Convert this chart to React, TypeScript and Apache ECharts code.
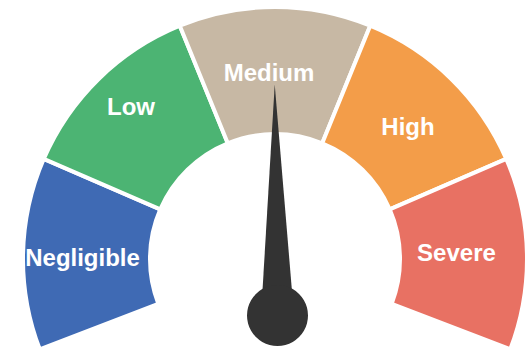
import React, { useEffect, useRef } from "react";
import * as echarts from "echarts";

const categories = ["Negligible", "Low", "Medium", "High", "Severe"];
const segmentValues = [1, 1, 1, 1, 1];
const segmentColors = ["#3f6ab4", "#4cb473", "#c7b8a4", "#f39d49", "#e87163"];
const needleValue = [49.7];
// label nudges [dx, dy] from the slice's mid point
const labelNudges = [
  [-1, 3],
  [-10, -16],
  [-6, 5],
  [-1, 4],
  [-10, -2],
];

export default function App() {
  const ref = useRef<HTMLDivElement>(null);
  useEffect(() => {
    if (!ref.current) return;
    const chart = echarts.init(ref.current, null, { renderer: "svg" });
    chart.setOption({
      animation: false,
      series: [
        {
          type: "pie",
          z: 1,
          center: [275, 259],
          radius: [125, 252],
          startAngle: 201,
          endAngle: -21,
          clockwise: true,
          silent: true,
          avoidLabelOverlap: false,
          itemStyle: { borderColor: "#ffffff", borderWidth: 4 },
          label: {
            show: true,
            position: "inside",
            color: "#ffffff",
            fontSize: 24,
            fontWeight: "bold",
            fontFamily: "Liberation Sans, Arial, sans-serif",
            formatter: "{b}",
          },
          labelLayout: (p: any) => ({
            dx: labelNudges[p.dataIndex][0],
            dy: labelNudges[p.dataIndex][1],
          }),
          labelLine: { show: false },
          emphasis: { disabled: true },
          data: categories.map((c, i) => ({
            name: c,
            value: segmentValues[i],
            itemStyle: { color: segmentColors[i] },
          })),
        },
        {
          type: "gauge",
          z: 5,
          center: [277.5, 315.5],
          radius: 100,
          startAngle: 201,
          endAngle: -21,
          min: 0,
          max: 100,
          silent: true,
          axisLine: { show: false },
          splitLine: { show: false },
          axisTick: { show: false },
          axisLabel: { show: false },
          detail: { show: false },
          title: { show: false },
          pointer: {
            show: true,
            icon: "path://M10,0 L20,100 L0,100 Z",
            length: 231,
            width: 33,
            keepAspect: false,
            itemStyle: { color: "#333333" },
          },
          anchor: {
            show: true,
            showAbove: true,
            size: 61,
            itemStyle: { color: "#333333" },
          },
          data: [{ value: needleValue[0] }],
        },
      ],
    });
    return () => chart.dispose();
  }, []);
  return (
    <div
      ref={ref}
      style={{ position: "absolute", left: 0, top: 0, width: 526, height: 351 }}
    />
  );
}
